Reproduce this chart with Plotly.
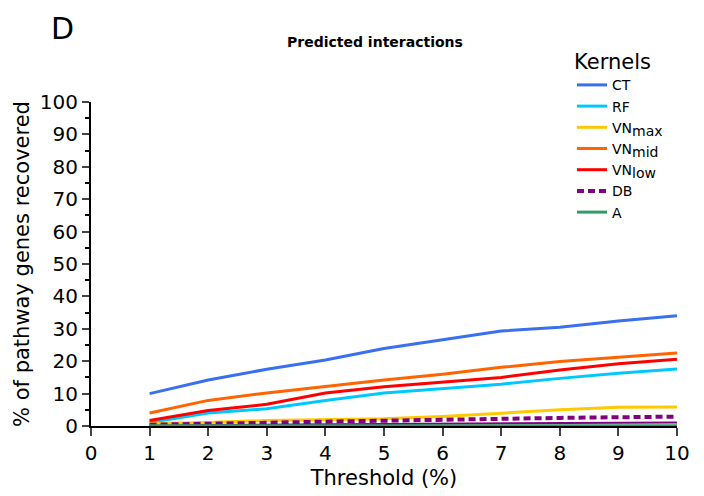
import plotly.graph_objects as go

thresholds = [1, 2, 3, 4, 5, 6, 7, 8, 9, 10]
ct = [10.0, 14.2, 17.5, 20.4, 23.9, 26.7, 29.3, 30.5, 32.4, 34.0]
rf = [1.1, 4.0, 5.3, 7.9, 10.2, 11.6, 12.9, 14.7, 16.3, 17.6]
vn_max = [0.8, 1.1, 1.7, 1.9, 2.2, 2.9, 4.0, 5.0, 5.8, 5.9]
vn_mid = [4.0, 7.9, 10.2, 12.3, 14.2, 16.0, 18.1, 19.9, 21.3, 22.5]
vn_low = [1.7, 4.8, 6.7, 10.2, 12.1, 13.6, 15.0, 17.3, 19.2, 20.6]
db = [0.4, 0.6, 1.0, 1.35, 1.7, 2.0, 2.2, 2.5, 2.7, 2.9]
db_solid = [0.2, 0.3, 0.4, 0.5, 0.6, 0.7, 0.8, 0.9, 1.0, 1.1]
a_vals = [0.1, 0.1, 0.1, 0.1, 0.1, 0.1, 0.1, 0.1, 0.1, 0.1]

LEG = 14
def sub(base, s):
    return f'{base}<sub><span style="font-size:{LEG}px">{s}</span></sub>'

series = [
    ("CT", ct, "#3a6ff0", "solid"),
    ("RF", rf, "#00c8ff", "solid"),
    (sub("VN", "max"), vn_max, "#ffc800", "solid"),
    (sub("VN", "mid"), vn_mid, "#ff6400", "solid"),
    (sub("VN", "low"), vn_low, "#ff0000", "solid"),
    ("DB", db, "#800080", "7px,4px"),
    ("A", a_vals, "#2e9c64", "solid"),
]

fig = go.Figure()
fig.add_trace(go.Scatter(x=thresholds, y=db_solid, mode="lines",
                         line=dict(color="#800080", width=2), showlegend=False,
                         cliponaxis=False))
for name, vals, color, dash in series:
    w = 4 if name == "DB" else 3
    fig.add_trace(go.Scatter(x=thresholds, y=vals, mode="lines", name=name,
                             line=dict(color=color, width=w, dash=dash),
                             cliponaxis=False))

OFF = 8
L, R, T, B = 91 - OFF, 704 - (677 - OFF), 102 - OFF, 496 - (426 - OFF)
pw = 704 - L - R
ph = 496 - T - B

def to_paper(px, py):
    return (px - OFF - L) / pw, (496 - B - (py - OFF)) / ph

font_family = "DejaVu Sans"
lx, ly = to_paper(572, 42)
dx, dy = to_paper(62, 28)
tx, ty = to_paper(375, 42)
fig.update_layout(
    width=704, height=496,
    margin=dict(l=L, r=R, t=T, b=B),
    paper_bgcolor="white", plot_bgcolor="white",
    font=dict(family=font_family, color="black"),
    showlegend=True,
    legend=dict(x=lx, y=ly, xanchor="left", yanchor="top",
                title=dict(text="Kernels", font=dict(size=21)),
                font=dict(size=LEG), tracegroupgap=0, itemwidth=30,
                bgcolor="rgba(0,0,0,0)"),
    xaxis=dict(range=[0, 10], tickmode="linear", tick0=0, dtick=1,
               showgrid=False, zeroline=False, showline=True, linecolor="black",
               linewidth=2, ticks="outside", ticklen=8, tickwidth=2,
               tickfont=dict(size=20),
               title=dict(text="Threshold (%)", font=dict(size=21), standoff=6)),
    yaxis=dict(range=[0, 100], tickmode="linear", tick0=0, dtick=10,
               showgrid=False, zeroline=False, showline=True, linecolor="black",
               linewidth=2, ticks="outside", ticklen=7, tickwidth=2,
               tickfont=dict(size=20),
               minor=dict(dtick=5, ticks="outside", ticklen=4, tickwidth=2, tickcolor="black"),
               title=dict(text="% of pathway genes recovered", font=dict(size=21), standoff=4)),
    annotations=[
        dict(text="D", x=dx, y=dy, xref="paper", yref="paper", showarrow=False,
             xanchor="center", yanchor="middle", font=dict(size=30)),
        dict(text="<b>Predicted interactions</b>", x=tx, y=ty, xref="paper", yref="paper",
             xanchor="center", yanchor="middle", showarrow=False, font=dict(size=14)),
    ],
)
fig.write_html("out.html")
